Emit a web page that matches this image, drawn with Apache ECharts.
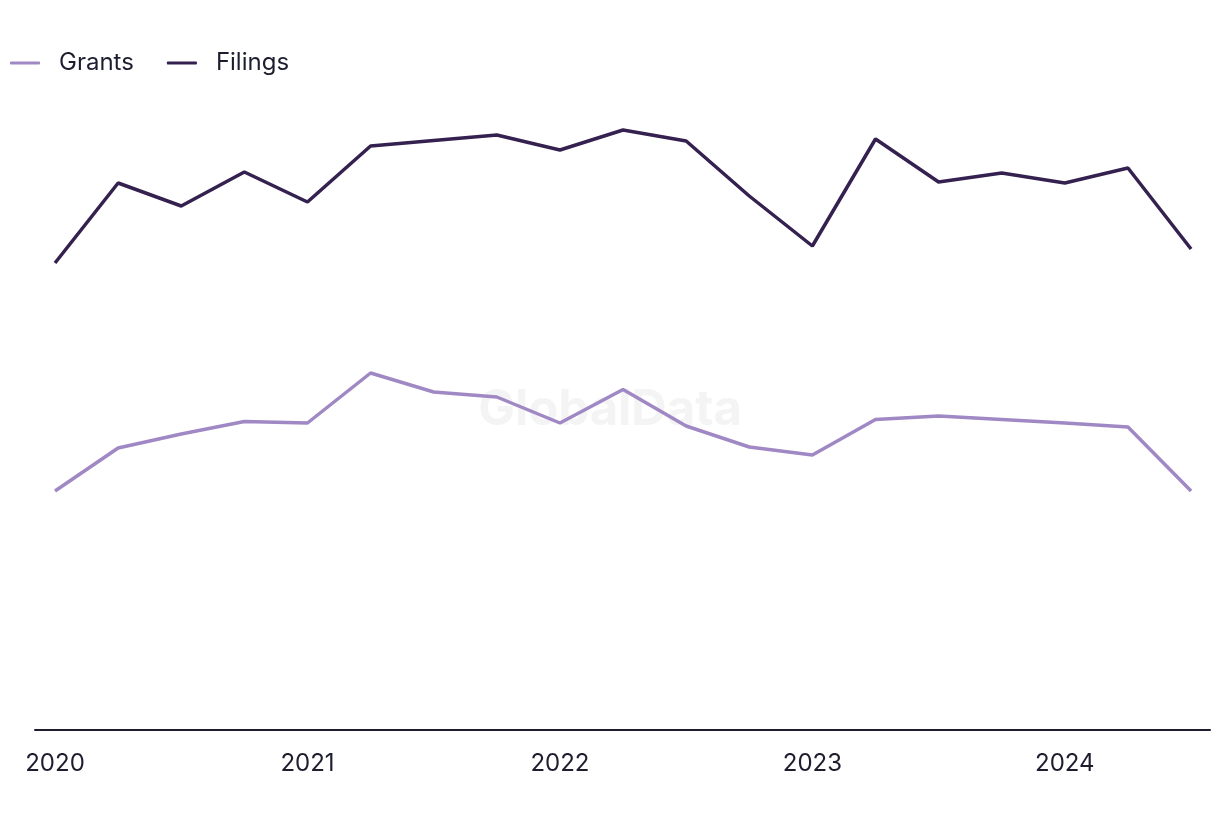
<!DOCTYPE html>
<html>
<head>
<meta charset="utf-8">
<script src="https://cdn.jsdelivr.net/npm/echarts@6/dist/echarts.min.js"></script>
<style>html,body{margin:0;padding:0;background:#fff}#c{width:1220px;height:820px}</style>
</head>
<body>
<div id="c"></div>
<script>
const quarters = ['2020 Q1','2020 Q2','2020 Q3','2020 Q4','2021 Q1','2021 Q2','2021 Q3','2021 Q4','2022 Q1','2022 Q2','2022 Q3','2022 Q4','2023 Q1','2023 Q2','2023 Q3','2023 Q4','2024 Q1','2024 Q2','2024 Q3'];
const grants = [239, 282, 296, 308.5, 307, 357, 338, 333, 307, 340.5, 304, 283, 275, 310.5, 314, 310.5, 307, 303, 239];
const filings = [467, 547, 524, 558, 528, 584, 589.5, 595, 580, 600, 589, 534, 484, 591, 548, 557, 547, 562, 481];
const tickIdx = [0, 4, 8, 12, 16];
const tickLabels = ['2020', '2021', '2022', '2023', '2024'];

const FONT = 'Inter, "Noto Sans", sans-serif';
const chart = echarts.init(document.getElementById('c'));
chart.setOption({
  animation: false,
  backgroundColor: '#ffffff',
  graphic: [{
    type: 'text', left: 'center', top: 386, z: 0, silent: true,
    style: { text: 'GlobalData', font: 'bold 49px ' + FONT, fill: '#f4f4f4' }
  }],
  legend: {
    left: 5, top: 46, itemWidth: 30, itemHeight: 3, itemGap: 33,
    icon: 'roundRect',
    textStyle: { fontFamily: FONT, fontSize: 24, color: '#1d1d2f', padding: [0, 0, 0, 14] },
    data: ['Grants', 'Filings']
  },
  grid: { left: 35, right: 10, top: 30, bottom: 90, containLabel: false },
  xAxis: {
    type: 'value', min: -0.317, max: 18.3,
    splitLine: { show: false },
    axisLine: { show: true, onZero: false, lineStyle: { color: '#1d1d2f', width: 2 } },
    axisTick: { show: false },
    axisLabel: {
      customValues: tickIdx,
      formatter: v => tickLabels[tickIdx.indexOf(Math.round(v))] || '',
      fontFamily: FONT, fontSize: 24, color: '#1d1d2f', margin: 22
    }
  },
  yAxis: {
    type: 'value', min: 0, max: 700, show: false, splitLine: { show: false }
  },
  series: [
    { name: 'Grants', type: 'line', symbol: 'none', z: 3,
      data: grants.map((v, i) => [i, v]),
      lineStyle: { color: '#a088c4', width: 3.5 }, itemStyle: { color: '#a088c4' } },
    { name: 'Filings', type: 'line', symbol: 'none', z: 3,
      data: filings.map((v, i) => [i, v]),
      lineStyle: { color: '#35214f', width: 3.5 }, itemStyle: { color: '#35214f' } }
  ]
});
</script>
</body>
</html>
